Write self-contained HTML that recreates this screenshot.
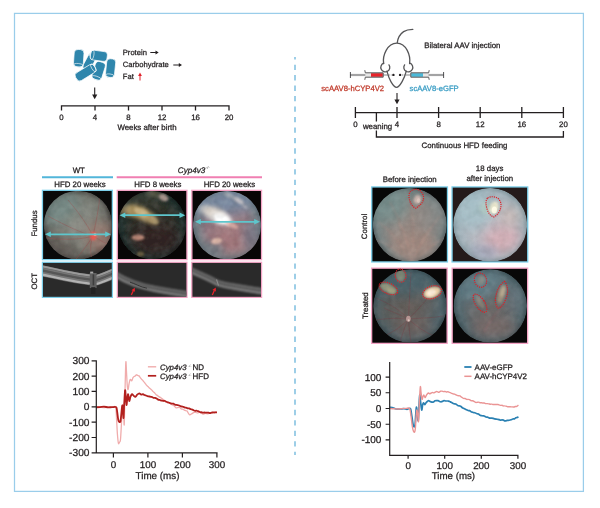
<!DOCTYPE html>
<html><head><meta charset="utf-8"><title>figure</title>
<style>
html,body{margin:0;padding:0;background:#fff;}
svg{display:block;will-change:transform;filter:blur(0.3px);}
text{font-family:"Liberation Sans",sans-serif;stroke-width:0.26px;text-rendering:geometricPrecision;}
</style></head><body>
<svg width="600" height="508" viewBox="0 0 600 508">
<defs>
<filter id="b1" x="-30%" y="-30%" width="160%" height="160%"><feGaussianBlur stdDeviation="1"/></filter>
<filter id="b2" x="-30%" y="-30%" width="160%" height="160%"><feGaussianBlur stdDeviation="2"/></filter>
<filter id="b3" x="-40%" y="-40%" width="180%" height="180%"><feGaussianBlur stdDeviation="3.5"/></filter>
<filter id="b5" x="-50%" y="-50%" width="200%" height="200%"><feGaussianBlur stdDeviation="6"/></filter>
<filter id="b05" x="-30%" y="-30%" width="160%" height="160%"><feGaussianBlur stdDeviation="0.5"/></filter>
<filter id="b07" x="-30%" y="-30%" width="160%" height="160%"><feGaussianBlur stdDeviation="0.75"/></filter>
<filter id="grainD" x="0" y="0" width="100%" height="100%" color-interpolation-filters="sRGB"><feTurbulence type="fractalNoise" baseFrequency="0.13" numOctaves="2" seed="4"/><feColorMatrix type="matrix" values="0 0 0 0 0  0 0 0 0 0  0 0 0 0 0  1.0 0 0 0 -0.36"/></filter>
<filter id="grainL" x="0" y="0" width="100%" height="100%" color-interpolation-filters="sRGB"><feTurbulence type="fractalNoise" baseFrequency="0.13" numOctaves="2" seed="11"/><feColorMatrix type="matrix" values="0 0 0 0 1  0 0 0 0 1  0 0 0 0 1  0 1.0 0 0 -0.38"/></filter>
<clipPath id="cb1"><rect x="43.099999999999994" y="191.0" width="68.60000000000001" height="68.0"/></clipPath>
<clipPath id="cc1"><circle cx="78.1" cy="225.1" r="34.4"/></clipPath>
<radialGradient id="fg1" gradientUnits="userSpaceOnUse" cx="78.1" cy="225.1" r="34.4"><stop offset="0" stop-color="#888981"/><stop offset="0.62" stop-color="#81837b"/><stop offset="0.86" stop-color="#696963"/><stop offset="1" stop-color="#42403d"/></radialGradient>
<clipPath id="cb2"><rect x="117.89999999999999" y="191.0" width="68.39999999999999" height="68.0"/></clipPath>
<clipPath id="cc2"><circle cx="152.1" cy="225.1" r="34.2"/></clipPath>
<radialGradient id="fg2" gradientUnits="userSpaceOnUse" cx="152.1" cy="225.1" r="34.2"><stop offset="0" stop-color="#322e27"/><stop offset="0.6" stop-color="#2d2f28"/><stop offset="0.88" stop-color="#23312e"/><stop offset="1" stop-color="#172321"/></radialGradient>
<clipPath id="cb3"><rect x="192.5" y="191.0" width="68.39999999999998" height="68.0"/></clipPath>
<clipPath id="cc3"><circle cx="227" cy="225.1" r="34.2"/></clipPath>
<radialGradient id="fg3" gradientUnits="userSpaceOnUse" cx="227" cy="225.1" r="34.2"><stop offset="0" stop-color="#a07c80"/><stop offset="0.6" stop-color="#947a84"/><stop offset="0.88" stop-color="#788088"/><stop offset="1" stop-color="#5c6a72"/></radialGradient>
<clipPath id="co1"><rect x="43.0" y="262.9" width="68.8" height="33.90000000000001"/></clipPath>
<clipPath id="co2"><rect x="117.9" y="262.9" width="68.49999999999999" height="33.90000000000001"/></clipPath>
<clipPath id="co3"><rect x="192.39999999999998" y="262.9" width="68.6" height="33.90000000000001"/></clipPath>
<clipPath id="cb4"><rect x="372.40000000000003" y="187.60000000000002" width="74.39999999999998" height="73.69999999999999"/></clipPath>
<clipPath id="cc4"><circle cx="409.8" cy="224.9" r="37"/></clipPath>
<radialGradient id="fg4" gradientUnits="userSpaceOnUse" cx="409.8" cy="224.9" r="37"><stop offset="0" stop-color="#988c86"/><stop offset="0.6" stop-color="#908a86"/><stop offset="0.88" stop-color="#788484"/><stop offset="1" stop-color="#566264"/></radialGradient>
<clipPath id="cb5"><rect x="452.7" y="187.60000000000002" width="74.40000000000003" height="73.69999999999999"/></clipPath>
<clipPath id="cc5"><circle cx="490.2" cy="224.9" r="37"/></clipPath>
<radialGradient id="fg5" gradientUnits="userSpaceOnUse" cx="490.2" cy="224.9" r="37"><stop offset="0" stop-color="#c4bcc4"/><stop offset="0.6" stop-color="#b8bcc4"/><stop offset="0.88" stop-color="#a2b2ba"/><stop offset="1" stop-color="#8498a0"/></radialGradient>
<clipPath id="cb6"><rect x="372.3" y="268.8" width="74.19999999999999" height="73.89999999999998"/></clipPath>
<clipPath id="cc6"><circle cx="410" cy="306" r="36.8"/></clipPath>
<radialGradient id="fg6" gradientUnits="userSpaceOnUse" cx="410" cy="306" r="36.8"><stop offset="0" stop-color="#665e5a"/><stop offset="0.55" stop-color="#60605e"/><stop offset="0.85" stop-color="#4e6268"/><stop offset="1" stop-color="#34484e"/></radialGradient>
<clipPath id="cb7"><rect x="452.8" y="268.8" width="74.19999999999999" height="73.89999999999998"/></clipPath>
<clipPath id="cc7"><circle cx="490.3" cy="306" r="36.8"/></clipPath>
<radialGradient id="fg7" gradientUnits="userSpaceOnUse" cx="490.3" cy="306" r="36.8"><stop offset="0" stop-color="#6c6866"/><stop offset="0.55" stop-color="#666a6c"/><stop offset="0.85" stop-color="#566a70"/><stop offset="1" stop-color="#3c5056"/></radialGradient>
</defs>
<rect width="600" height="508" fill="#fff"/>
<rect x="14.5" y="13.4" width="568.9" height="478" fill="#fff" stroke="#9acdea" stroke-width="1.25"/>
<line x1="295" y1="57.1" x2="295" y2="455" stroke="#7dbfe0" stroke-width="1.5" stroke-dasharray="5.3 5.16" stroke-dashoffset="2.9"/>
<g transform="translate(89.6,61.8) rotate(-62)"><rect x="-8.75" y="-4.2" width="17.5" height="8.4" rx="3.192" ry="3.192" fill="#2f86ac" stroke="#fff" stroke-width="0.7"/><ellipse cx="6.85" cy="0" rx="1.7" ry="4.0" fill="none" stroke="#fff" stroke-width="0.6"/></g>
<g transform="translate(78.75,58.3) rotate(94)"><rect x="-8.8" y="-4.9" width="17.6" height="9.8" rx="3.724" ry="3.724" fill="#2f86ac" stroke="#fff" stroke-width="0.7"/><ellipse cx="6.9" cy="0" rx="1.7" ry="4.7" fill="none" stroke="#fff" stroke-width="0.6"/></g>
<g transform="translate(110.6,68.2) rotate(96)"><rect x="-9.4" y="-4.5" width="18.8" height="9.0" rx="3.42" ry="3.42" fill="#2f86ac" stroke="#fff" stroke-width="0.7"/><ellipse cx="7.5" cy="0" rx="1.7" ry="4.3" fill="none" stroke="#fff" stroke-width="0.6"/></g>
<g transform="translate(98.6,70.9) rotate(107.4)"><rect x="-9.3" y="-5.1" width="18.6" height="10.2" rx="3.876" ry="3.876" fill="#2f86ac" stroke="#fff" stroke-width="0.7"/><ellipse cx="7.4" cy="0" rx="1.7" ry="4.8999999999999995" fill="none" stroke="#fff" stroke-width="0.6"/></g>
<g transform="translate(98.75,55.8) rotate(8)"><rect x="-8.5" y="-4.9" width="17" height="9.8" rx="3.724" ry="3.724" fill="#2f86ac" stroke="#fff" stroke-width="0.7"/><ellipse cx="-6.6" cy="0" rx="1.7" ry="4.7" fill="none" stroke="#fff" stroke-width="0.6"/></g>
<g transform="translate(85.6,72.6) rotate(-31.5)"><rect x="-11.0" y="-4.6" width="22" height="9.2" rx="3.4959999999999996" ry="3.4959999999999996" fill="#2f86ac" stroke="#fff" stroke-width="0.7"/><ellipse cx="9.1" cy="0" rx="1.7" ry="4.3999999999999995" fill="none" stroke="#fff" stroke-width="0.6"/></g>
<text transform="translate(122.8,55.1) scale(1.0,1)" font-size="7.6" text-anchor="start" fill="#231f20" stroke="#231f20"  >Protein</text>
<text transform="translate(122.8,67.3) scale(1.0,1)" font-size="7.6" text-anchor="start" fill="#231f20" stroke="#231f20"  >Carbohydrate</text>
<text transform="translate(122.8,79.3) scale(1.0,1)" font-size="7.6" text-anchor="start" fill="#231f20" stroke="#231f20"  >Fat</text>
<path d="M150.3,52.5 L155.9,52.5" stroke="#231f20" stroke-width="1.0" fill="none"/>
<path d="M158.7,52.5 L155.5,50.6 L155.5,54.4 Z" fill="#231f20"/>
<path d="M173.3,65 L179.20000000000002,65" stroke="#231f20" stroke-width="1.0" fill="none"/>
<path d="M182,65 L178.8,63.1 L178.8,66.9 Z" fill="#231f20"/>
<path d="M140,80.5 L140,75.6" stroke="#e0222b" stroke-width="1.0" fill="none"/>
<path d="M140,72.5 L138.1,76.0 L141.9,76.0 Z" fill="#e0222b"/>
<path d="M94.7,87.5 L94.7,95.0" stroke="#231f20" stroke-width="1.1" fill="none"/>
<path d="M94.7,99.2 L92.10000000000001,94.60000000000001 L97.3,94.60000000000001 Z" fill="#231f20"/>
<path d="M61.5,110.39999999999999 L61.5,105.8 L229.0,105.8 L229.0,110.39999999999999 M95.0,105.8 L95.0,110.39999999999999 M128.5,105.8 L128.5,110.39999999999999 M162.0,105.8 L162.0,110.39999999999999 M195.5,105.8 L195.5,110.39999999999999" stroke="#231f20" stroke-width="1.3" fill="none"/>
<text transform="translate(61.5,119.7) scale(1.0,1)" font-size="7.85" text-anchor="middle" fill="#231f20" stroke="#231f20"  >0</text>
<text transform="translate(95.0,119.7) scale(1.0,1)" font-size="7.85" text-anchor="middle" fill="#231f20" stroke="#231f20"  >4</text>
<text transform="translate(128.5,119.7) scale(1.0,1)" font-size="7.85" text-anchor="middle" fill="#231f20" stroke="#231f20"  >8</text>
<text transform="translate(162.0,119.7) scale(1.0,1)" font-size="7.85" text-anchor="middle" fill="#231f20" stroke="#231f20"  >12</text>
<text transform="translate(195.5,119.7) scale(1.0,1)" font-size="7.85" text-anchor="middle" fill="#231f20" stroke="#231f20"  >16</text>
<text transform="translate(229.0,119.7) scale(1.0,1)" font-size="7.85" text-anchor="middle" fill="#231f20" stroke="#231f20"  >20</text>
<text transform="translate(147,129.8) scale(1.0,1)" font-size="7.85" text-anchor="middle" fill="#231f20" stroke="#231f20"  >Weeks after birth</text>
<g fill="none" stroke="#555557" stroke-width="1.3" stroke-linecap="round" stroke-linejoin="round">
<path d="M397.3,42.6 C397.8,38.5 399.8,34.2 403.6,31.6 C406.4,29.9 409.6,29.5 412.8,29.4"/>
<path d="M383.6,63.6 C382.4,55.5 387.2,43.2 396.8,43.1 C406.4,43.2 410.8,55.5 409.6,63.6" fill="#fff"/>
<path d="M386.9,71.2 C388,75.5 389.4,79 390.9,81.6 C392.6,84.6 394.7,87.3 396.5,87.3 C398.3,87.3 400.4,84.6 402.1,81.6 C403.6,79 405.2,75.5 406.3,71.2"/>
<path d="M383.76,63.17 A4.5,4.5 0 1 0 388.99,64.82"/>
<path d="M409.84,63.17 A4.5,4.5 0 1 1 404.61,64.82"/>
</g>
<circle cx="393.4" cy="74.9" r="1.2" fill="#231f20"/><circle cx="400.1" cy="74.9" r="1.2" fill="#231f20"/>
<path d="M383,75 L388,75 M405.6,75 L410.6,75" stroke="#777" stroke-width="0.9" fill="none"/>
<path d="M388.4,75 L391.6,75 M402,75 L405.2,75" stroke="#555557" stroke-width="0.7" stroke-dasharray="1.4 1.0" fill="none"/>
<rect x="350.4" y="74.2" width="14.900000000000034" height="1.6" fill="#dcdcdc" stroke="#555557" stroke-width="0.5"/>
<path d="M350.4,72 L350.4,78" stroke="#48484a" stroke-width="0.95"/>
<rect x="365.3" y="72.8" width="17.899999999999977" height="4.400000000000006" fill="#e6e6e6"/>
<rect x="371.0" y="73.2" width="11.800000000000011" height="3.600000000000006" fill="#e8232a"/>
<path d="M364.8,70.2 L365.3,72.8 L383.2,72.8 L383.2,77.2 L365.3,77.2 L364.8,79.8" stroke="#48484a" stroke-width="0.9" fill="none" stroke-linejoin="miter"/>
<rect x="428.7" y="74.2" width="14.900000000000034" height="1.6" fill="#dcdcdc" stroke="#555557" stroke-width="0.5"/>
<path d="M443.6,72 L443.6,78" stroke="#48484a" stroke-width="0.95"/>
<rect x="410.8" y="72.8" width="17.899999999999977" height="4.400000000000006" fill="#e6e6e6"/>
<rect x="411.2" y="73.2" width="11.800000000000011" height="3.600000000000006" fill="#4bb9d8"/>
<path d="M429.2,70.2 L428.7,72.8 L410.8,72.8 L410.8,77.2 L428.7,77.2 L429.2,79.8" stroke="#48484a" stroke-width="0.9" fill="none" stroke-linejoin="miter"/>
<text transform="translate(384,91.3) scale(1.0,1)" font-size="7.65" text-anchor="end" fill="#c03a2b" stroke="#c03a2b"  >scAAV8-hCYP4V2</text>
<text transform="translate(409.6,91.0) scale(1.0,1)" font-size="7.65" text-anchor="start" fill="#3a9dc4" stroke="#3a9dc4"  >scAAV8-eGFP</text>
<text transform="translate(424.2,47.9) scale(1.0,1)" font-size="7.85" text-anchor="start" fill="#231f20" stroke="#231f20"  >Bilateral AAV injection</text>
<path d="M397,93 L397,100.0" stroke="#231f20" stroke-width="1.1" fill="none"/>
<path d="M397,104.2 L394.4,99.60000000000001 L399.6,99.60000000000001 Z" fill="#231f20"/>
<path d="M355.4,112.6 L563.4,112.6 M355.4,107.1 L355.4,118.1 M397.0,107.1 L397.0,118.1 M438.59999999999997,107.1 L438.59999999999997,118.1 M480.2,107.1 L480.2,118.1 M521.8,107.1 L521.8,118.1 M563.4,107.1 L563.4,118.1 M376.4,112.6 L376.4,121.4 M376.4,130.6 L376.4,137 L563.4,137 L563.4,131" stroke="#231f20" stroke-width="1.3" fill="none"/>
<text transform="translate(355.4,127.3) scale(1.0,1)" font-size="7.85" text-anchor="middle" fill="#231f20" stroke="#231f20"  >0</text>
<text transform="translate(397.0,127.3) scale(1.0,1)" font-size="7.85" text-anchor="middle" fill="#231f20" stroke="#231f20"  >4</text>
<text transform="translate(438.59999999999997,127.3) scale(1.0,1)" font-size="7.85" text-anchor="middle" fill="#231f20" stroke="#231f20"  >8</text>
<text transform="translate(480.2,127.3) scale(1.0,1)" font-size="7.85" text-anchor="middle" fill="#231f20" stroke="#231f20"  >12</text>
<text transform="translate(521.8,127.3) scale(1.0,1)" font-size="7.85" text-anchor="middle" fill="#231f20" stroke="#231f20"  >16</text>
<text transform="translate(563.4,127.3) scale(1.0,1)" font-size="7.85" text-anchor="middle" fill="#231f20" stroke="#231f20"  >20</text>
<text transform="translate(377.5,129) scale(1.0,1)" font-size="7.85" text-anchor="middle" fill="#231f20" stroke="#231f20"  >weaning</text>
<text transform="translate(464.5,148.2) scale(1.0,1)" font-size="7.85" text-anchor="middle" fill="#231f20" stroke="#231f20"  >Continuous HFD feeding</text>
<text transform="translate(78.8,172.8) scale(1.0,1)" font-size="7.85" text-anchor="middle" fill="#231f20" stroke="#231f20"  >WT</text>
<line x1="42" y1="177.3" x2="113" y2="177.3" stroke="#52b6da" stroke-width="1.9"/>
<line x1="116.7" y1="177.3" x2="262" y2="177.3" stroke="#f07fb2" stroke-width="1.9"/>
<text x="177.8" y="173.3" font-size="8.1" font-style="italic" fill="#231f20" stroke="#231f20">Cyp4v3</text>
<text x="205.6" y="168.7" font-size="4.2" font-style="italic" fill="#333">-/-</text>
<text transform="translate(80,186.7) scale(1.0,1)" font-size="7.85" text-anchor="middle" fill="#231f20" stroke="#231f20"  >HFD 20 weeks</text>
<text transform="translate(157.9,186.7) scale(1.0,1)" font-size="7.85" text-anchor="middle" fill="#231f20" stroke="#231f20"  >HFD 8 weeks</text>
<text transform="translate(229.4,186.7) scale(1.0,1)" font-size="7.85" text-anchor="middle" fill="#231f20" stroke="#231f20"  >HFD 20 weeks</text>
<text transform="translate(37.4,223.5) rotate(-90) scale(1.0,1)" font-size="7.85" text-anchor="middle" fill="#231f20" stroke="#231f20">Fundus</text>
<text transform="translate(37,281.3) rotate(-90) scale(1.0,1)" font-size="7.85" text-anchor="middle" fill="#231f20" stroke="#231f20">OCT</text>
<rect x="42.449999999999996" y="190.35" width="69.9" height="69.30000000000003" fill="#0a0a0a" stroke="#7ccfea" stroke-width="1.3"/>
<g clip-path="url(#cb1)"><g filter="url(#b05)"><g clip-path="url(#cc1)">
<circle cx="78.1" cy="225.1" r="34.4" fill="url(#fg1)"/>
<ellipse cx="60" cy="208" rx="22" ry="15" transform="rotate(-35 60 208)" fill="#768c88" opacity="0.85" filter="url(#b5)"/>
<ellipse cx="100" cy="238" rx="14" ry="16" transform="rotate(0 100 238)" fill="#a27a70" opacity="0.75" filter="url(#b5)"/>
<ellipse cx="60" cy="248" rx="18" ry="11" transform="rotate(20 60 248)" fill="#5e5852" opacity="0.85" filter="url(#b5)"/>
<ellipse cx="92" cy="204" rx="12" ry="9" transform="rotate(0 92 204)" fill="#8a9288" opacity="0.5" filter="url(#b5)"/>
<ellipse cx="78" cy="226" rx="10" ry="8" transform="rotate(0 78 226)" fill="#92928a" opacity="0.5" filter="url(#b3)"/>
<g stroke="#9c5050" stroke-width="0.8" fill="none" opacity="0.5" filter="url(#b07)"><path d="M93,236 C88,226 80,214 68,200"/><path d="M93,236 C96,222 99,208 100,194"/><path d="M93,236 C84,234 66,226 48,216"/><path d="M93,236 C88,244 82,252 76,259"/><path d="M93,236 C90,244 90,252 92,259"/><path d="M93,236 C100,240 106,244 111,246"/><path d="M93,236 C80,240 62,240 46,238"/></g><ellipse cx="93.3" cy="236" rx="3.2" ry="4.2" fill="#f0564e" opacity="0.95" filter="url(#b1)"/><ellipse cx="95" cy="234.5" rx="1.6" ry="1.6" fill="#ff9a80" opacity="0.9" filter="url(#b05)"/>
<rect x="43.699999999999996" y="190.7" width="68.8" height="68.8" filter="url(#grainD)" opacity="0.16"/>
<rect x="43.699999999999996" y="190.7" width="68.8" height="68.8" filter="url(#grainL)" opacity="0.16"/>
</g></g></g>
<path d="M49,234.3 L107,234.3" stroke="#5ec6cc" stroke-width="1.7"/>
<path d="M45,234.3 L50.8,231.5 L50.8,237.10000000000002 Z M111,234.3 L105.2,231.5 L105.2,237.10000000000002 Z" fill="#5ec6cc"/>
<rect x="117.25" y="190.35" width="69.7" height="69.30000000000003" fill="#080606" stroke="#f5a4c6" stroke-width="1.3"/>
<g clip-path="url(#cb2)"><g filter="url(#b05)"><g clip-path="url(#cc2)">
<circle cx="152.1" cy="225.1" r="34.2" fill="url(#fg2)"/>
<ellipse cx="156" cy="240" rx="26" ry="16" transform="rotate(0 156 240)" fill="#302420" opacity="0.8" filter="url(#b5)"/>
<ellipse cx="140" cy="200" rx="22" ry="9" transform="rotate(0 140 200)" fill="#3e4034" opacity="0.8" filter="url(#b5)"/>
<ellipse cx="128" cy="211" rx="10" ry="5" transform="rotate(8 128 211)" fill="#94805a" opacity="0.85" filter="url(#b2)"/>
<ellipse cx="137" cy="211.5" rx="11" ry="6.2" transform="rotate(18 137 211.5)" fill="#b09864" opacity="1" filter="url(#b2)"/>
<ellipse cx="147" cy="216.5" rx="12" ry="5.2" transform="rotate(28 147 216.5)" fill="#baa270" opacity="1" filter="url(#b2)"/>
<ellipse cx="142" cy="212.5" rx="8" ry="3" transform="rotate(22 142 212.5)" fill="#c8b484" opacity="0.8" filter="url(#b1)"/>
<ellipse cx="154" cy="221" rx="5" ry="2.3" transform="rotate(28 154 221)" fill="#b09a70" opacity="0.8" filter="url(#b1)"/>
<ellipse cx="163.5" cy="197.5" rx="5" ry="3.2" transform="rotate(25 163.5 197.5)" fill="#b49c94" opacity="0.95" filter="url(#b1)"/>
<ellipse cx="154" cy="193.6" rx="7" ry="2.6" transform="rotate(12 154 193.6)" fill="#6c684e" opacity="0.8" filter="url(#b2)"/>
<ellipse cx="138" cy="237.5" rx="6.5" ry="3" transform="rotate(0 138 237.5)" fill="#c08a78" opacity="0.95" filter="url(#b1)"/>
<ellipse cx="140.5" cy="254" rx="3.5" ry="2.6" transform="rotate(0 140.5 254)" fill="#80704c" opacity="0.8" filter="url(#b1)"/>

<rect x="117.89999999999999" y="190.89999999999998" width="68.4" height="68.4" filter="url(#grainD)" opacity="0.2"/>
<rect x="117.89999999999999" y="190.89999999999998" width="68.4" height="68.4" filter="url(#grainL)" opacity="0.2"/>
</g></g></g>
<path d="M123.5,215.2 L181.3,215.2" stroke="#5ec6cc" stroke-width="1.7"/>
<path d="M119.5,215.2 L125.3,212.39999999999998 L125.3,218.0 Z M185.3,215.2 L179.5,212.39999999999998 L179.5,218.0 Z" fill="#5ec6cc"/>
<rect x="191.85" y="190.35" width="69.7" height="69.30000000000003" fill="#080606" stroke="#f5a4c6" stroke-width="1.3"/>
<g clip-path="url(#cb3)"><g filter="url(#b05)"><g clip-path="url(#cc3)">
<circle cx="227" cy="225.1" r="34.2" fill="url(#fg3)"/>
<ellipse cx="224" cy="203" rx="32" ry="13" transform="rotate(-8 224 203)" fill="#7688a0" opacity="0.95" filter="url(#b5)"/>
<ellipse cx="232" cy="242" rx="26" ry="13" transform="rotate(0 232 242)" fill="#a8787c" opacity="0.8" filter="url(#b5)"/>
<ellipse cx="210" cy="250" rx="14" ry="9" transform="rotate(0 210 250)" fill="#6e7880" opacity="0.8" filter="url(#b3)"/>
<ellipse cx="250" cy="236" rx="8" ry="14" transform="rotate(0 250 236)" fill="#70788a" opacity="0.6" filter="url(#b3)"/>
<ellipse cx="207" cy="211" rx="10" ry="4.6" transform="rotate(28 207 211)" fill="#b4b6ba" opacity="0.9" filter="url(#b2)"/>
<ellipse cx="215.5" cy="214" rx="13" ry="6.4" transform="rotate(22 215.5 214)" fill="#dcd4cc" opacity="1" filter="url(#b2)"/>
<ellipse cx="222" cy="219" rx="10.5" ry="5.4" transform="rotate(18 222 219)" fill="#ffffff" opacity="1" filter="url(#b2)"/>
<ellipse cx="222.5" cy="219.4" rx="6.5" ry="3.2" transform="rotate(18 222.5 219.4)" fill="#ffffff" opacity="1" filter="url(#b1)"/>
<ellipse cx="232" cy="225.4" rx="7" ry="2.4" transform="rotate(25 232 225.4)" fill="#e4b4ac" opacity="0.9" filter="url(#b1)"/>
<ellipse cx="238.5" cy="200.5" rx="6.5" ry="2.6" transform="rotate(32 238.5 200.5)" fill="#ccc8cc" opacity="0.9" filter="url(#b1)"/>
<ellipse cx="229" cy="195.4" rx="6" ry="2.4" transform="rotate(24 229 195.4)" fill="#aab0b8" opacity="0.8" filter="url(#b1)"/>
<ellipse cx="245" cy="206.5" rx="3.5" ry="1.8" transform="rotate(30 245 206.5)" fill="#b8b8c0" opacity="0.7" filter="url(#b1)"/>
<ellipse cx="216.5" cy="241" rx="5.5" ry="3" transform="rotate(-12 216.5 241)" fill="#e4bcac" opacity="0.95" filter="url(#b1)"/>

<rect x="192.8" y="190.89999999999998" width="68.4" height="68.4" filter="url(#grainD)" opacity="0.2"/>
<rect x="192.8" y="190.89999999999998" width="68.4" height="68.4" filter="url(#grainL)" opacity="0.2"/>
</g></g></g>
<path d="M199,221.8 L256,221.8" stroke="#5ec6cc" stroke-width="1.7"/>
<path d="M195,221.8 L200.8,219.0 L200.8,224.60000000000002 Z M260,221.8 L254.2,219.0 L254.2,224.60000000000002 Z" fill="#5ec6cc"/>
<rect x="42.4" y="262.3" width="70.0" height="35.10000000000001" fill="#2a2a2a" stroke="#7ccfea" stroke-width="1.2"/>
<g clip-path="url(#co1)"><g fill="none" filter="url(#b07)"><path d="M40,270.4 C48,272 56,273.6 64.7,275.6 C72,277.2 80,278.6 90,279.8" stroke="#646464" stroke-width="11"/><path d="M40,270.4 C48,272 56,273.6 64.7,275.6 C72,277.2 80,278.6 90,279.8" transform="translate(0,-4.4)" stroke="#9a9a9a" stroke-width="2.0"/><path d="M40,270.4 C48,272 56,273.6 64.7,275.6 C72,277.2 80,278.6 90,279.8" transform="translate(0,-2.2)" stroke="#747474" stroke-width="1.8"/><path d="M40,270.4 C48,272 56,273.6 64.7,275.6 C72,277.2 80,278.6 90,279.8" transform="translate(0,-0.2)" stroke="#565656" stroke-width="2.2"/><path d="M40,270.4 C48,272 56,273.6 64.7,275.6 C72,277.2 80,278.6 90,279.8" transform="translate(0,1.8)" stroke="#787878" stroke-width="1.6"/><path d="M40,270.4 C48,272 56,273.6 64.7,275.6 C72,277.2 80,278.6 90,279.8" transform="translate(0,3.8)" stroke="#b2b2b2" stroke-width="2.4"/></g><g fill="none" filter="url(#b07)"><path d="M96,280.4 C101,279 107,276.6 115,273" stroke="#646464" stroke-width="10.4"/><path d="M96,280.4 C101,279 107,276.6 115,273" transform="translate(0,-4.4)" stroke="#9a9a9a" stroke-width="2.0"/><path d="M96,280.4 C101,279 107,276.6 115,273" transform="translate(0,-2.2)" stroke="#747474" stroke-width="1.8"/><path d="M96,280.4 C101,279 107,276.6 115,273" transform="translate(0,-0.2)" stroke="#565656" stroke-width="2.2"/><path d="M96,280.4 C101,279 107,276.6 115,273" transform="translate(0,1.8)" stroke="#787878" stroke-width="1.6"/><path d="M96,280.4 C101,279 107,276.6 115,273" transform="translate(0,3.8)" stroke="#b2b2b2" stroke-width="2.4"/></g><g filter="url(#b07)"><rect x="89.8" y="273" width="6.8" height="15" fill="#606060"/><rect x="92.6" y="274.4" width="1.6" height="11" fill="#3c3c3c"/><rect x="90.2" y="271.6" width="3" height="1.8" fill="#a8a8a8"/><rect x="91.2" y="287" width="4.2" height="7" fill="#222" opacity="0.8"/></g></g>
<rect x="117.3" y="262.3" width="69.69999999999999" height="35.10000000000001" fill="#2a2a2a" stroke="#f5a4c6" stroke-width="1.2"/>
<g clip-path="url(#co2)"><g fill="none" filter="url(#b1)"><path d="M114,273.6 C122,278.6 128,281.2 134,283.3 C140,285.4 147,287.4 154,288.7 C162,290.2 172,292.2 190,294.6" stroke="#585858" stroke-width="5.6"/><path d="M114,273.6 C122,278.6 128,281.2 134,283.3 C140,285.4 147,287.4 154,288.7 C162,290.2 172,292.2 190,294.6" transform="translate(0,-2.2)" stroke="#787878" stroke-width="1.3"/><path d="M114,273.6 C122,278.6 128,281.2 134,283.3 C140,285.4 147,287.4 154,288.7 C162,290.2 172,292.2 190,294.6" transform="translate(0,0)" stroke="#4c4c4c" stroke-width="1.4"/><path d="M114,273.6 C122,278.6 128,281.2 134,283.3 C140,285.4 147,287.4 154,288.7 C162,290.2 172,292.2 190,294.6" transform="translate(0,2.2)" stroke="#8c8c8c" stroke-width="1.6"/></g><path d="M130,282.2 C135,283.6 140,287 147,288.2" stroke="#222" stroke-width="0.9" fill="none" opacity="0.8" filter="url(#b07)"/><path d="M131.30,294.90 L133.21,291.03" stroke="#e8222a" stroke-width="1.3" fill="none"/><path d="M134.80,287.80 L134.91,291.87 L131.50,290.19 Z" fill="#e8222a"/></g>
<rect x="191.79999999999998" y="262.3" width="69.8" height="35.10000000000001" fill="#2a2a2a" stroke="#f5a4c6" stroke-width="1.2"/>
<g clip-path="url(#co3)"><g fill="none" filter="url(#b1)"><path d="M189,269.4 C196,272.6 202,275.4 208,278 C212,279.8 215,281.8 218.7,283.3 C224,285 229,285.8 234.7,286.7 C242,288 250,289.4 264,291.4" stroke="#585858" stroke-width="5.8"/><path d="M189,269.4 C196,272.6 202,275.4 208,278 C212,279.8 215,281.8 218.7,283.3 C224,285 229,285.8 234.7,286.7 C242,288 250,289.4 264,291.4" transform="translate(0,-2.2)" stroke="#787878" stroke-width="1.3"/><path d="M189,269.4 C196,272.6 202,275.4 208,278 C212,279.8 215,281.8 218.7,283.3 C224,285 229,285.8 234.7,286.7 C242,288 250,289.4 264,291.4" transform="translate(0,0)" stroke="#4c4c4c" stroke-width="1.4"/><path d="M189,269.4 C196,272.6 202,275.4 208,278 C212,279.8 215,281.8 218.7,283.3 C224,285 229,285.8 234.7,286.7 C242,288 250,289.4 264,291.4" transform="translate(0,2.2)" stroke="#8c8c8c" stroke-width="1.6"/></g><path d="M216.5,279.5 L218.5,285.6" stroke="#8a8a8a" stroke-width="1.1" fill="none" filter="url(#b07)"/><path d="M212.30,294.90 L214.20,290.77" stroke="#e8222a" stroke-width="1.3" fill="none"/><path d="M215.70,287.50 L215.92,291.56 L212.47,289.98 Z" fill="#e8222a"/></g>
<text transform="translate(409.7,181.5) scale(1.0,1)" font-size="7.85" text-anchor="middle" fill="#231f20" stroke="#231f20"  >Before injection</text>
<text transform="translate(489.6,171.2) scale(1.0,1)" font-size="7.85" text-anchor="middle" fill="#231f20" stroke="#231f20"  >18 days</text>
<text transform="translate(489.8,181.1) scale(1.0,1)" font-size="7.85" text-anchor="middle" fill="#231f20" stroke="#231f20"  >after injection</text>
<text transform="translate(367.4,226.5) rotate(-90) scale(1.0,1)" font-size="7.85" text-anchor="middle" fill="#231f20" stroke="#231f20">Control</text>
<text transform="translate(367.5,305.7) rotate(-90) scale(1.0,1)" font-size="7.85" text-anchor="middle" fill="#231f20" stroke="#231f20">Treated</text>
<rect x="371.75" y="186.95000000000002" width="75.7" height="75.00000000000001" fill="#080808" stroke="#7ccfea" stroke-width="1.3"/>
<g clip-path="url(#cb4)"><g filter="url(#b05)"><g clip-path="url(#cc4)">
<circle cx="409.8" cy="224.9" r="37" fill="url(#fg4)"/>
<ellipse cx="390" cy="206" rx="22" ry="16" transform="rotate(-35 390 206)" fill="#78908e" opacity="0.9" filter="url(#b5)"/>
<ellipse cx="414" cy="246" rx="24" ry="15" transform="rotate(0 414 246)" fill="#a48a80" opacity="0.8" filter="url(#b5)"/>
<ellipse cx="436" cy="214" rx="12" ry="18" transform="rotate(20 436 214)" fill="#8c8e8c" opacity="0.6" filter="url(#b5)"/>
<g stroke="#c49488" stroke-width="1.1" fill="none" opacity="0.32" filter="url(#b1)"><path d="M412,264 C408,240 400,220 390,202"/><path d="M412,264 C414,240 414,222 411,206"/><path d="M412,264 C404,246 390,230 378,222"/><path d="M412,264 C420,244 430,228 440,216"/><path d="M412,264 C400,250 388,244 376,240"/><path d="M412,264 C424,250 434,244 444,238"/><path d="M412,264 C410,246 404,232 398,222"/><path d="M412,264 C418,246 424,236 430,228"/></g><ellipse cx="417.4" cy="199.4" rx="3.4" ry="4.4" transform="rotate(25 417.4 199.4)" fill="#dcc0b8" opacity="0.85" filter="url(#b1)"/><ellipse cx="418.6" cy="200.6" rx="1.8" ry="2.4" fill="#e8d2ca" opacity="0.6" filter="url(#b07)"/>
<rect x="372.8" y="187.9" width="74" height="74" filter="url(#grainD)" opacity="0.14"/>
<rect x="372.8" y="187.9" width="74" height="74" filter="url(#grainL)" opacity="0.14"/>
</g></g></g>
<path d="M410,192 C411.6,189.8 415,188.8 418,189.6 C421,190.6 423.4,194 423.6,197.4 C423.6,200.4 422.4,202.6 421,204 C419.4,205.6 417.6,207 416,208.3 C413.6,207.4 411.8,205.4 410.6,203 C409.4,200.4 408.8,197 409,195 C409.2,193.8 409.4,192.8 410,192 Z" fill="none" stroke="#de1f26" stroke-width="1.2" stroke-dasharray="1.15 1.0"/>
<rect x="452.04999999999995" y="186.95000000000002" width="75.7" height="75.00000000000001" fill="#241a1a" stroke="#7ccfea" stroke-width="1.3"/>
<g clip-path="url(#cb5)"><g filter="url(#b05)"><g clip-path="url(#cc5)">
<circle cx="490.2" cy="224.9" r="37" fill="url(#fg5)"/>
<ellipse cx="474" cy="210" rx="22" ry="20" transform="rotate(-30 474 210)" fill="#a6c0c8" opacity="0.9" filter="url(#b5)"/>
<ellipse cx="502" cy="240" rx="20" ry="14" transform="rotate(-20 502 240)" fill="#d8b0b8" opacity="0.9" filter="url(#b5)"/>
<ellipse cx="510" cy="216" rx="10" ry="10" transform="rotate(0 510 216)" fill="#d0bcb4" opacity="0.7" filter="url(#b5)"/>
<ellipse cx="484" cy="252" rx="14" ry="8" transform="rotate(0 484 252)" fill="#a4a8bc" opacity="0.7" filter="url(#b3)"/>
<ellipse cx="486" cy="208" rx="6" ry="7" fill="#b8d4c4" opacity="0.6" filter="url(#b2)"/><ellipse cx="494" cy="207.6" rx="4.4" ry="6.4" transform="rotate(20 494 207.6)" fill="#f0ecd0" opacity="0.9" filter="url(#b1)"/><ellipse cx="494.4" cy="210" rx="2.6" ry="3.6" fill="#fffce8" opacity="0.95" filter="url(#b07)"/>
<rect x="453.2" y="187.9" width="74" height="74" filter="url(#grainD)" opacity="0.14"/>
<rect x="453.2" y="187.9" width="74" height="74" filter="url(#grainL)" opacity="0.14"/>
</g></g></g>
<path d="M487.6,198 C490.6,196.2 495.4,196.2 498.4,198.8 C500.8,201 501.4,204.6 500.8,207.6 C500.2,210.4 499,212.6 497.4,214.2 C496.2,215.4 495,216.4 493.6,217 C491.2,216.2 489.4,214.2 488.2,211.8 C486.8,209 486,205.6 486,203 C486,201 486.6,199.2 487.6,198 Z" fill="none" stroke="#de1f26" stroke-width="1.2" stroke-dasharray="1.15 1.0"/>
<rect x="371.65" y="268.15" width="75.50000000000001" height="75.2" fill="#080808" stroke="#f5a4c6" stroke-width="1.3"/>
<g clip-path="url(#cb6)"><g filter="url(#b05)"><g clip-path="url(#cc6)">
<circle cx="410" cy="306" r="36.8" fill="url(#fg6)"/>
<ellipse cx="404" cy="284" rx="26" ry="12" transform="rotate(0 404 284)" fill="#4a646c" opacity="0.9" filter="url(#b5)"/>
<ellipse cx="412" cy="328" rx="22" ry="11" transform="rotate(0 412 328)" fill="#726460" opacity="0.7" filter="url(#b5)"/>
<ellipse cx="386" cy="312" rx="10" ry="14" transform="rotate(0 386 312)" fill="#5e5e5c" opacity="0.6" filter="url(#b5)"/>
<ellipse cx="434" cy="312" rx="8" ry="12" transform="rotate(0 434 312)" fill="#606e74" opacity="0.6" filter="url(#b5)"/>
<g stroke="#7c3840" stroke-width="0.6" fill="none" opacity="0.5" filter="url(#b05)"><path d="M408.4,319 C409,306 410,290 411,272"/><path d="M408.4,319 C400,310 390,304 376,298"/><path d="M408.4,319 C418,310 424,302 430,296"/><path d="M408.4,319 C402,326 394,332 384,336"/><path d="M408.4,319 C416,326 424,332 434,336"/><path d="M408.4,319 C409,328 410,336 411,343"/><path d="M408.4,319 C398,318 388,318 376,320"/><path d="M408.4,319 C420,318 432,318 444,316"/><path d="M408.4,319 C404,328 402,336 400,342"/><path d="M408.4,319 C399,314 392,312 384,308"/></g><ellipse cx="408.4" cy="318.8" rx="2.3" ry="3" fill="#c8a4a0" opacity="0.85" filter="url(#b07)"/><ellipse cx="408.8" cy="320.4" rx="0.9" ry="1.1" fill="#f0dcd4" opacity="0.8" filter="url(#b05)"/><ellipse cx="400.6" cy="275.6" rx="4.8" ry="6" transform="rotate(-10 400.6 275.6)" fill="#868e78" opacity="0.85" filter="url(#b1)"/><ellipse cx="388.4" cy="288.4" rx="9" ry="4.4" transform="rotate(25 388.4 288.4)" fill="#94967a" opacity="0.9" filter="url(#b1)"/><ellipse cx="391" cy="290.4" rx="4.4" ry="2.4" transform="rotate(25 391 290.4)" fill="#a8a684" opacity="0.85" filter="url(#b1)"/><ellipse cx="432.1" cy="292.3" rx="9" ry="5.4" transform="rotate(-20 432.1 292.3)" fill="#ecd0a8" opacity="1" filter="url(#b1)"/><ellipse cx="431.4" cy="292.6" rx="4.6" ry="3" transform="rotate(-20 431.4 292.6)" fill="#fff0dc" opacity="1" filter="url(#b1)"/>
<rect x="373.2" y="269.2" width="73.6" height="73.6" filter="url(#grainD)" opacity="0.14"/>
<rect x="373.2" y="269.2" width="73.6" height="73.6" filter="url(#grainL)" opacity="0.14"/>
</g></g></g>
<ellipse cx="400.6" cy="275.6" rx="5.3" ry="6.6" transform="rotate(-10 400.6 275.6)" fill="none" stroke="#de1f26" stroke-width="1.2" stroke-dasharray="1.15 1.0"/>
<ellipse cx="388.4" cy="288.4" rx="9.9" ry="5.2" transform="rotate(25 388.4 288.4)" fill="none" stroke="#de1f26" stroke-width="1.2" stroke-dasharray="1.15 1.0"/>
<ellipse cx="432.1" cy="292.3" rx="9.8" ry="6.1" transform="rotate(-20 432.1 292.3)" fill="none" stroke="#de1f26" stroke-width="1.2" stroke-dasharray="1.15 1.0"/>
<rect x="452.15" y="268.15" width="75.49999999999996" height="75.2" fill="#080808" stroke="#f5a4c6" stroke-width="1.3"/>
<g clip-path="url(#cb7)"><g filter="url(#b05)"><g clip-path="url(#cc7)">
<circle cx="490.3" cy="306" r="36.8" fill="url(#fg7)"/>
<ellipse cx="480" cy="286" rx="24" ry="14" transform="rotate(-20 480 286)" fill="#64808a" opacity="0.9" filter="url(#b5)"/>
<ellipse cx="494" cy="328" rx="24" ry="11" transform="rotate(0 494 328)" fill="#7c6a68" opacity="0.8" filter="url(#b5)"/>
<ellipse cx="514" cy="298" rx="10" ry="14" transform="rotate(0 514 298)" fill="#6a7a84" opacity="0.6" filter="url(#b5)"/>
<ellipse cx="501.5" cy="294" rx="3.6" ry="10" transform="rotate(17 501.5 294)" fill="#a89880" opacity="0.8" filter="url(#b1)"/><ellipse cx="502.4" cy="292" rx="1.8" ry="5" transform="rotate(17 502.4 292)" fill="#c4b494" opacity="0.75" filter="url(#b1)"/><ellipse cx="480.8" cy="280" rx="4" ry="5" fill="#8e8a80" opacity="0.7" filter="url(#b1)"/><ellipse cx="479.9" cy="302" rx="2.6" ry="7" transform="rotate(-33 479.9 302)" fill="#988a7c" opacity="0.75" filter="url(#b1)"/><path d="M484,332 C490,320 496,312 506,304" stroke="#a06068" stroke-width="1" fill="none" opacity="0.5" filter="url(#b1)"/>
<rect x="453.5" y="269.2" width="73.6" height="73.6" filter="url(#grainD)" opacity="0.14"/>
<rect x="453.5" y="269.2" width="73.6" height="73.6" filter="url(#grainL)" opacity="0.14"/>
</g></g></g>
<ellipse cx="480.5" cy="280.2" rx="6" ry="7.2" transform="rotate(-18 480.5 280.2)" fill="none" stroke="#de1f26" stroke-width="1.2" stroke-dasharray="1.15 1.0"/>
<ellipse cx="480" cy="303.2" rx="4.6" ry="10.4" transform="rotate(-33 480 303.2)" fill="none" stroke="#de1f26" stroke-width="1.2" stroke-dasharray="1.15 1.0"/>
<path d="M504.6,281.4 C506.4,283.4 507.6,287.6 507.6,291.8 C507.2,296 505.4,300.6 503.4,304 C501.8,306.4 499.8,308 498,308.2 C496.4,306.8 495.4,303.4 495.4,299.8 C495.6,295.6 497,291 498.8,287.6 C500.4,284.8 502.6,282.4 504.6,281.4 Z" fill="none" stroke="#de1f26" stroke-width="1.2" stroke-dasharray="1.15 1.0"/>
<path d="M96.00,407.30 C96.64,407.25 98.72,406.95 100.00,407.00 C101.28,407.05 102.72,407.60 104.00,407.60 C105.28,407.60 106.72,407.03 108.00,407.00 C109.28,406.97 110.78,407.37 112.00,407.40 C113.22,407.43 114.86,405.18 115.60,407.20 C116.34,409.22 116.31,415.71 116.60,420.00 C116.89,424.29 117.11,430.29 117.40,434.00 C117.69,437.71 118.08,441.86 118.40,443.20 C118.72,444.54 119.08,442.85 119.40,442.40 C119.72,441.95 120.14,442.06 120.40,440.40 C120.66,438.74 120.74,436.22 121.00,432.00 C121.26,427.78 121.68,418.40 122.00,414.00 C122.32,409.60 122.74,405.14 123.00,404.50 C123.26,403.86 123.41,406.72 123.60,410.00 C123.79,413.28 124.01,426.60 124.20,425.00 C124.39,423.40 124.54,409.95 124.80,400.00 C125.06,390.05 125.53,367.28 125.80,362.80 C126.07,358.32 126.26,368.29 126.50,372.00 C126.74,375.71 127.04,383.18 127.30,386.00 C127.56,388.82 127.83,389.92 128.10,389.60 C128.37,389.28 128.66,385.63 129.00,384.00 C129.34,382.37 129.78,379.89 130.20,379.40 C130.62,378.91 131.26,380.89 131.60,380.92 C131.94,380.95 132.08,380.13 132.30,379.61 C132.52,379.10 132.71,378.18 133.00,377.69 C133.29,377.20 133.75,376.85 134.10,376.58 C134.45,376.30 134.85,376.26 135.20,375.97 C135.55,375.68 135.91,374.85 136.30,374.77 C136.69,374.68 137.22,375.24 137.65,375.42 C138.08,375.59 138.64,375.58 139.00,375.87 C139.36,376.15 139.61,376.79 139.90,377.17 C140.19,377.56 140.51,377.93 140.80,378.27 C141.09,378.62 141.41,379.06 141.70,379.36 C141.99,379.66 142.31,379.84 142.60,380.16 C142.89,380.48 143.21,381.02 143.50,381.38 C143.79,381.73 144.11,382.01 144.40,382.38 C144.69,382.74 145.01,383.24 145.30,383.63 C145.59,384.03 145.91,384.50 146.20,384.85 C146.49,385.20 146.81,385.55 147.10,385.81 C147.39,386.08 147.71,386.27 148.00,386.53 C148.29,386.79 148.61,387.17 148.90,387.46 C149.19,387.75 149.49,388.07 149.80,388.34 C150.11,388.61 150.51,388.87 150.84,389.16 C151.17,389.44 151.55,389.77 151.88,390.13 C152.21,390.49 152.59,391.07 152.92,391.42 C153.25,391.76 153.63,391.99 153.96,392.29 C154.29,392.60 154.65,392.94 155.00,393.32 C155.35,393.69 155.80,394.32 156.18,394.65 C156.55,394.98 156.97,395.09 157.35,395.37 C157.73,395.64 158.15,396.09 158.52,396.37 C158.90,396.65 159.28,396.86 159.70,397.12 C160.12,397.37 160.67,397.61 161.13,397.93 C161.59,398.25 162.11,398.79 162.57,399.11 C163.03,399.43 163.55,399.65 164.00,399.95 C164.45,400.24 164.94,400.62 165.38,400.96 C165.81,401.29 166.31,401.79 166.75,402.05 C167.19,402.31 167.69,402.42 168.12,402.57 C168.56,402.72 169.04,402.70 169.50,402.98 C169.96,403.25 170.52,403.95 171.00,404.28 C171.48,404.60 172.02,404.77 172.50,405.01 C172.98,405.25 173.60,405.46 174.00,405.76 C174.40,406.06 174.68,406.56 175.00,406.88 C175.32,407.21 175.57,407.65 176.00,407.78 C176.43,407.91 177.16,407.78 177.70,407.70 C178.24,407.63 178.94,407.19 179.40,407.30 C179.86,407.41 180.22,408.12 180.60,408.40 C180.98,408.68 181.42,408.94 181.80,409.06 C182.18,409.18 182.58,408.99 183.00,409.16 C183.42,409.34 183.95,409.90 184.40,410.14 C184.85,410.39 185.35,410.54 185.80,410.68 C186.25,410.83 186.86,410.80 187.20,411.07 C187.54,411.34 187.68,411.97 187.90,412.37 C188.12,412.77 188.30,413.20 188.60,413.59 C188.90,413.98 189.26,414.80 189.80,414.80 C190.34,414.80 191.33,413.98 192.00,413.60 C192.67,413.22 193.44,412.65 194.00,412.43 C194.56,412.22 195.02,412.19 195.50,412.25 C195.98,412.30 196.52,412.71 197.00,412.77 C197.48,412.83 198.02,412.73 198.50,412.63 C198.98,412.53 199.52,412.10 200.00,412.17 C200.48,412.25 201.02,412.77 201.50,413.10 C201.98,413.42 202.44,414.14 203.00,414.19 C203.56,414.25 204.44,413.55 205.00,413.46 C205.56,413.37 206.02,413.58 206.50,413.64 C206.98,413.70 207.52,413.88 208.00,413.81 C208.48,413.73 209.02,413.35 209.50,413.18 C209.98,413.01 210.52,412.85 211.00,412.74 C211.48,412.63 212.02,412.41 212.50,412.47 C212.98,412.52 213.52,413.12 214.00,413.09 C214.48,413.05 215.02,412.37 215.50,412.24 C215.98,412.11 216.76,412.28 217.00,412.29" fill="none" stroke="#f0acac" stroke-width="1.3" stroke-linejoin="round"/>
<path d="M96.00,407.30 C96.64,407.27 98.72,407.20 100.00,407.10 C101.28,407.00 102.72,406.67 104.00,406.70 C105.28,406.73 106.72,407.22 108.00,407.30 C109.28,407.38 110.69,407.22 112.00,407.20 C113.31,407.18 115.37,406.43 116.20,407.20 C117.03,407.97 116.88,410.03 117.20,412.00 C117.52,413.97 117.88,417.93 118.20,419.50 C118.52,421.07 118.85,421.46 119.20,421.80 C119.55,422.14 120.11,422.37 120.40,421.60 C120.69,420.83 120.71,419.53 121.00,417.00 C121.29,414.47 121.91,407.08 122.20,405.80 C122.49,404.52 122.59,407.05 122.80,409.00 C123.01,410.95 123.28,418.80 123.50,418.00 C123.72,417.20 123.94,408.45 124.20,404.00 C124.46,399.55 124.84,391.32 125.10,390.20 C125.36,389.08 125.58,394.63 125.80,397.00 C126.02,399.37 126.28,404.60 126.50,405.00 C126.72,405.40 126.96,401.23 127.20,399.50 C127.44,397.77 127.76,394.47 128.00,394.20 C128.24,393.93 128.48,396.71 128.70,397.80 C128.92,398.89 129.13,401.13 129.40,401.00 C129.67,400.87 129.98,398.09 130.40,397.00 C130.82,395.91 131.49,394.42 132.00,394.20 C132.51,393.98 133.06,395.18 133.60,395.60 C134.14,396.02 134.82,396.96 135.40,396.80 C135.98,396.64 136.58,395.16 137.20,394.60 C137.82,394.04 138.69,393.30 139.30,393.30 C139.91,393.30 140.41,394.45 141.00,394.60 C141.59,394.75 142.44,394.17 143.00,394.24 C143.56,394.31 144.02,394.82 144.50,395.03 C144.98,395.23 145.55,395.36 146.00,395.52 C146.45,395.69 146.91,395.91 147.33,396.06 C147.76,396.21 148.24,396.40 148.67,396.48 C149.09,396.55 149.52,396.47 150.00,396.54 C150.48,396.61 151.13,396.71 151.67,396.91 C152.20,397.11 152.80,397.65 153.33,397.80 C153.87,397.95 154.48,397.74 155.00,397.86 C155.52,397.97 156.07,398.22 156.57,398.51 C157.07,398.79 157.63,399.39 158.13,399.63 C158.63,399.87 159.24,399.84 159.70,399.98 C160.16,400.12 160.60,400.41 161.02,400.50 C161.45,400.60 161.93,400.51 162.35,400.59 C162.77,400.66 163.25,400.92 163.68,400.98 C164.10,401.05 164.59,400.87 165.00,400.99 C165.41,401.11 165.85,401.52 166.25,401.73 C166.65,401.94 167.10,402.19 167.50,402.32 C167.90,402.45 168.35,402.43 168.75,402.56 C169.15,402.70 169.53,402.98 170.00,403.14 C170.47,403.31 171.13,403.49 171.67,403.57 C172.20,403.65 172.80,403.51 173.33,403.67 C173.87,403.83 174.50,404.36 175.00,404.55 C175.50,404.75 176.00,404.82 176.47,404.92 C176.94,405.03 177.46,405.12 177.93,405.21 C178.40,405.31 178.92,405.33 179.40,405.52 C179.88,405.71 180.44,406.25 180.93,406.42 C181.42,406.59 181.98,406.47 182.47,406.58 C182.96,406.70 183.55,406.97 184.00,407.13 C184.45,407.29 184.88,407.48 185.30,407.60 C185.72,407.72 186.18,407.75 186.60,407.88 C187.02,408.00 187.48,408.29 187.90,408.38 C188.32,408.47 188.74,408.30 189.20,408.44 C189.66,408.58 190.29,409.06 190.80,409.25 C191.31,409.43 191.89,409.41 192.40,409.60 C192.91,409.79 193.54,410.27 194.00,410.46 C194.46,410.65 194.85,410.76 195.25,410.80 C195.65,410.84 196.10,410.66 196.50,410.71 C196.90,410.76 197.35,410.98 197.75,411.11 C198.15,411.24 198.59,411.34 199.00,411.53 C199.41,411.72 199.91,412.16 200.33,412.28 C200.76,412.40 201.24,412.20 201.67,412.26 C202.09,412.33 202.57,412.64 203.00,412.68 C203.43,412.71 203.91,412.49 204.33,412.48 C204.76,412.47 205.24,412.60 205.67,412.60 C206.09,412.61 206.55,412.51 207.00,412.53 C207.45,412.55 208.02,412.63 208.50,412.71 C208.98,412.79 209.52,413.06 210.00,413.05 C210.48,413.04 211.02,412.75 211.50,412.65 C211.98,412.55 212.55,412.50 213.00,412.44 C213.45,412.39 213.91,412.31 214.33,412.31 C214.76,412.31 215.24,412.44 215.67,412.46 C216.09,412.47 216.79,412.42 217.00,412.41" fill="none" stroke="#b2201e" stroke-width="1.8" stroke-linejoin="round"/>
<path d="M96.3,360.2 L96.3,452.8 L217.6,452.8 M91.6,360.78 L96.3,360.78 M91.6,376.12 L96.3,376.12 M91.6,391.46 L96.3,391.46 M91.6,406.80 L96.3,406.80 M91.6,422.14 L96.3,422.14 M91.6,437.48 L96.3,437.48 M91.6,452.82 L96.3,452.82 M113.40,452.8 L113.40,457.4 M147.90,452.8 L147.90,457.4 M182.40,452.8 L182.40,457.4 M216.90,452.8 L216.90,457.4" stroke="#231f20" stroke-width="1.2" fill="none"/>
<text transform="translate(89.5,364.33) scale(1.0,1)" font-size="10.2" text-anchor="end" fill="#231f20" stroke="#231f20"  >300</text>
<text transform="translate(89.5,379.67) scale(1.0,1)" font-size="10.2" text-anchor="end" fill="#231f20" stroke="#231f20"  >200</text>
<text transform="translate(89.5,395.01) scale(1.0,1)" font-size="10.2" text-anchor="end" fill="#231f20" stroke="#231f20"  >100</text>
<text transform="translate(89.5,410.35) scale(1.0,1)" font-size="10.2" text-anchor="end" fill="#231f20" stroke="#231f20"  >0</text>
<text transform="translate(89.5,425.69) scale(1.0,1)" font-size="10.2" text-anchor="end" fill="#231f20" stroke="#231f20"  >-100</text>
<text transform="translate(89.5,441.03) scale(1.0,1)" font-size="10.2" text-anchor="end" fill="#231f20" stroke="#231f20"  >-200</text>
<text transform="translate(89.5,456.37) scale(1.0,1)" font-size="10.2" text-anchor="end" fill="#231f20" stroke="#231f20"  >-300</text>
<text transform="translate(113.4,467.7) scale(1.0,1)" font-size="9.8" text-anchor="middle" fill="#231f20" stroke="#231f20"  >0</text>
<text transform="translate(147.9,467.7) scale(1.0,1)" font-size="9.8" text-anchor="middle" fill="#231f20" stroke="#231f20"  >100</text>
<text transform="translate(182.4,467.7) scale(1.0,1)" font-size="9.8" text-anchor="middle" fill="#231f20" stroke="#231f20"  >200</text>
<text transform="translate(216.9,467.7) scale(1.0,1)" font-size="9.8" text-anchor="middle" fill="#231f20" stroke="#231f20"  >300</text>
<text transform="translate(157.5,478.5) scale(1.0,1)" font-size="9.85" text-anchor="middle" fill="#231f20" stroke="#231f20"  >Time (ms)</text>
<line x1="147.9" y1="366.8" x2="156.2" y2="366.8" stroke="#f0acac" stroke-width="1.4"/>
<line x1="147.9" y1="375.8" x2="156.2" y2="375.8" stroke="#b2201e" stroke-width="1.7"/>
<text x="160.1" y="370.2" font-size="7.8" font-style="italic" fill="#231f20" stroke="#231f20">Cyp4v3</text>
<text x="188.2" y="367.0" font-size="3.4" font-style="italic" fill="#444">-/-</text>
<text x="192.5" y="370.2" font-size="8" fill="#231f20" stroke="#231f20">ND</text>
<text x="160.1" y="379.0" font-size="7.8" font-style="italic" fill="#231f20" stroke="#231f20">Cyp4v3</text>
<text x="188.2" y="375.8" font-size="3.4" font-style="italic" fill="#444">-/-</text>
<text x="192.5" y="379.0" font-size="8" fill="#231f20" stroke="#231f20">HFD</text>
<path d="M390.00,407.30 C390.48,407.38 392.04,407.53 393.00,407.80 C393.96,408.07 394.88,408.81 396.00,409.00 C397.12,409.19 398.72,409.06 400.00,409.00 C401.28,408.94 402.88,408.54 404.00,408.60 C405.12,408.66 405.98,409.40 407.00,409.40 C408.02,409.40 409.63,407.54 410.40,408.60 C411.17,409.66 411.38,413.54 411.80,416.00 C412.22,418.46 412.65,422.27 413.00,424.00 C413.35,425.73 413.68,426.58 414.00,426.80 C414.32,427.02 414.74,426.97 415.00,425.40 C415.26,423.83 415.38,419.90 415.60,417.00 C415.82,414.10 416.14,408.10 416.40,407.30 C416.66,406.50 416.91,409.87 417.20,412.00 C417.49,414.13 417.91,421.56 418.20,420.60 C418.49,419.64 418.74,410.11 419.00,406.00 C419.26,401.89 419.54,395.54 419.80,394.90 C420.06,394.26 420.30,399.58 420.60,402.00 C420.90,404.42 421.38,409.52 421.70,410.00 C422.02,410.48 422.31,406.14 422.60,405.00 C422.89,403.86 423.16,402.96 423.50,402.90 C423.84,402.84 424.30,404.62 424.70,404.60 C425.10,404.58 425.42,403.42 426.00,402.80 C426.58,402.18 427.60,400.89 428.30,400.70 C429.00,400.51 429.70,401.37 430.40,401.62 C431.10,401.86 432.15,402.21 432.70,402.22 C433.25,402.23 433.48,401.91 433.85,401.68 C434.22,401.44 434.58,400.94 435.00,400.76 C435.42,400.58 436.02,400.57 436.50,400.55 C436.98,400.53 437.52,400.49 438.00,400.63 C438.48,400.77 439.02,401.25 439.50,401.44 C439.98,401.63 440.52,401.82 441.00,401.81 C441.48,401.80 442.02,401.58 442.50,401.39 C442.98,401.19 443.51,400.67 444.00,400.61 C444.49,400.54 445.07,400.93 445.57,400.99 C446.07,401.05 446.63,400.96 447.13,400.98 C447.63,400.99 448.19,400.93 448.70,401.07 C449.21,401.21 449.82,401.60 450.35,401.87 C450.88,402.15 451.44,402.51 452.00,402.80 C452.56,403.09 453.26,403.50 453.85,403.70 C454.44,403.90 455.08,403.76 455.70,404.03 C456.32,404.30 457.01,405.10 457.70,405.41 C458.39,405.73 459.47,405.84 460.00,406.01 C460.53,406.18 460.68,406.25 461.00,406.49 C461.32,406.72 461.59,407.17 462.00,407.47 C462.41,407.77 463.04,408.09 463.53,408.36 C464.02,408.62 464.58,408.86 465.07,409.10 C465.56,409.33 466.12,409.62 466.60,409.85 C467.08,410.08 467.60,410.41 468.07,410.53 C468.54,410.66 469.06,410.46 469.53,410.64 C470.00,410.83 470.53,411.42 471.00,411.67 C471.47,411.93 472.02,412.09 472.50,412.25 C472.98,412.41 473.52,412.56 474.00,412.67 C474.48,412.79 475.02,412.80 475.50,412.97 C475.98,413.15 476.52,413.60 477.00,413.78 C477.48,413.96 478.02,413.87 478.50,414.11 C478.98,414.36 479.53,415.06 480.00,415.30 C480.47,415.55 480.97,415.57 481.43,415.66 C481.89,415.74 482.41,415.77 482.87,415.83 C483.33,415.90 483.82,415.88 484.30,416.06 C484.78,416.24 485.37,416.77 485.87,416.95 C486.37,417.13 486.93,417.04 487.43,417.18 C487.93,417.33 488.53,417.71 489.00,417.87 C489.47,418.02 489.95,418.09 490.40,418.14 C490.85,418.20 491.35,418.16 491.80,418.21 C492.25,418.25 492.72,418.32 493.20,418.44 C493.68,418.56 494.29,418.82 494.80,418.94 C495.31,419.06 495.89,419.12 496.40,419.19 C496.91,419.25 497.53,419.29 498.00,419.36 C498.47,419.44 498.91,419.53 499.33,419.66 C499.76,419.80 500.24,420.18 500.67,420.22 C501.09,420.25 501.55,419.89 502.00,419.88 C502.45,419.87 503.02,420.02 503.50,420.18 C503.98,420.34 504.38,420.85 505.00,420.89 C505.62,420.93 506.73,420.55 507.40,420.45 C508.07,420.34 508.62,420.33 509.20,420.22 C509.78,420.12 510.43,419.97 511.00,419.78 C511.57,419.59 512.19,419.19 512.75,419.04 C513.31,418.89 514.01,419.05 514.50,418.85 C514.99,418.65 515.38,418.01 515.80,417.79 C516.22,417.56 516.68,417.60 517.10,417.44 C517.52,417.28 518.19,416.90 518.40,416.79" fill="none" stroke="#2a80b2" stroke-width="1.7" stroke-linejoin="round"/>
<path d="M390.00,408.50 C390.64,408.55 392.72,408.72 394.00,408.80 C395.28,408.88 396.72,409.03 398.00,409.00 C399.28,408.97 400.72,408.70 402.00,408.60 C403.28,408.50 404.78,408.40 406.00,408.40 C407.22,408.40 408.80,407.38 409.60,408.60 C410.40,409.82 410.55,413.06 411.00,416.00 C411.45,418.94 412.02,424.60 412.40,427.00 C412.78,429.40 413.05,430.17 413.40,431.00 C413.75,431.83 414.28,432.68 414.60,432.20 C414.92,431.72 415.18,430.27 415.40,428.00 C415.62,425.73 415.78,420.88 416.00,418.00 C416.22,415.12 416.54,410.64 416.80,410.00 C417.06,409.36 417.33,412.16 417.60,414.00 C417.87,415.84 418.23,423.10 418.50,421.50 C418.77,419.90 419.01,409.52 419.30,404.00 C419.59,398.48 420.03,388.92 420.30,387.00 C420.57,385.08 420.73,390.03 421.00,392.00 C421.27,393.97 421.68,398.60 422.00,399.30 C422.32,400.00 422.71,397.09 423.00,396.40 C423.29,395.71 423.54,394.97 423.80,395.00 C424.06,395.03 424.36,396.20 424.60,396.60 C424.84,397.00 424.98,397.79 425.30,397.50 C425.62,397.21 426.12,395.52 426.60,394.80 C427.08,394.08 427.76,393.18 428.30,393.00 C428.84,392.82 429.41,393.75 430.00,393.69 C430.59,393.62 431.36,392.71 432.00,392.57 C432.64,392.43 433.33,392.96 434.00,392.81 C434.67,392.65 435.62,391.77 436.20,391.61 C436.78,391.45 437.15,391.71 437.60,391.82 C438.05,391.93 438.54,392.38 439.00,392.30 C439.46,392.21 440.02,391.45 440.50,391.27 C440.98,391.09 441.52,391.12 442.00,391.18 C442.48,391.23 443.02,391.56 443.50,391.61 C443.98,391.66 444.55,391.45 445.00,391.50 C445.45,391.56 445.88,391.92 446.30,391.95 C446.72,391.97 447.18,391.63 447.60,391.66 C448.02,391.70 448.47,392.04 448.90,392.18 C449.33,392.32 449.83,392.38 450.27,392.56 C450.70,392.73 451.20,393.09 451.63,393.30 C452.07,393.50 452.53,393.72 453.00,393.85 C453.47,393.98 454.07,393.95 454.57,394.13 C455.07,394.30 455.63,394.69 456.13,394.94 C456.63,395.18 457.08,395.49 457.70,395.65 C458.32,395.80 459.47,395.71 460.00,395.89 C460.53,396.07 460.68,396.55 461.00,396.79 C461.32,397.02 461.59,397.11 462.00,397.36 C462.41,397.62 463.04,398.20 463.53,398.37 C464.02,398.55 464.58,398.32 465.07,398.48 C465.56,398.64 466.12,399.23 466.60,399.38 C467.08,399.53 467.60,399.36 468.07,399.41 C468.54,399.45 469.06,399.48 469.53,399.68 C470.00,399.89 470.53,400.49 471.00,400.66 C471.47,400.83 472.02,400.63 472.50,400.73 C472.98,400.83 473.52,401.01 474.00,401.27 C474.48,401.52 475.02,402.16 475.50,402.34 C475.98,402.52 476.52,402.43 477.00,402.39 C477.48,402.36 478.02,402.07 478.50,402.12 C478.98,402.17 479.53,402.63 480.00,402.72 C480.47,402.82 480.97,402.64 481.43,402.69 C481.89,402.75 482.41,403.01 482.87,403.06 C483.33,403.11 483.82,402.90 484.30,402.99 C484.78,403.09 485.37,403.54 485.87,403.64 C486.37,403.74 486.93,403.55 487.43,403.60 C487.93,403.65 488.53,403.83 489.00,403.93 C489.47,404.02 489.95,404.18 490.40,404.21 C490.85,404.24 491.35,404.08 491.80,404.13 C492.25,404.17 492.72,404.45 493.20,404.50 C493.68,404.55 494.29,404.44 494.80,404.43 C495.31,404.43 495.89,404.48 496.40,404.49 C496.91,404.50 497.53,404.42 498.00,404.50 C498.47,404.57 498.91,404.78 499.33,404.93 C499.76,405.07 500.24,405.35 500.67,405.41 C501.09,405.46 501.57,405.17 502.00,405.25 C502.43,405.34 502.91,405.82 503.33,405.92 C503.76,406.03 504.24,405.86 504.67,405.89 C505.09,405.91 505.52,405.94 506.00,406.07 C506.48,406.20 507.13,406.59 507.67,406.69 C508.20,406.79 508.80,406.69 509.33,406.72 C509.87,406.75 510.50,406.84 511.00,406.87 C511.50,406.90 512.00,406.90 512.47,406.92 C512.94,406.94 513.46,407.08 513.93,407.01 C514.40,406.94 514.93,406.58 515.40,406.49 C515.87,406.40 516.42,406.66 516.90,406.43 C517.38,406.20 518.16,405.28 518.40,405.07" fill="none" stroke="#ea9494" stroke-width="1.4" stroke-linejoin="round"/>
<path d="M389.7,362 L389.7,455.4 L518.5,455.4 M385.6,377.05 L389.7,377.05 M385.6,392.77 L389.7,392.77 M385.6,408.50 L389.7,408.50 M385.6,424.23 L389.7,424.23 M385.6,439.95 L389.7,439.95 M408.10,455.4 L408.10,458.8 M444.70,455.4 L444.70,458.8 M481.30,455.4 L481.30,458.8 M517.90,455.4 L517.90,458.8" stroke="#231f20" stroke-width="1.2" fill="none"/>
<text transform="translate(381.4,380.55) scale(1.0,1)" font-size="10.0" text-anchor="end" fill="#231f20" stroke="#231f20"  >100</text>
<text transform="translate(381.4,396.27) scale(1.0,1)" font-size="10.0" text-anchor="end" fill="#231f20" stroke="#231f20"  >50</text>
<text transform="translate(381.4,412.0) scale(1.0,1)" font-size="10.0" text-anchor="end" fill="#231f20" stroke="#231f20"  >0</text>
<text transform="translate(381.4,427.73) scale(1.0,1)" font-size="10.0" text-anchor="end" fill="#231f20" stroke="#231f20"  >-50</text>
<text transform="translate(381.4,443.45) scale(1.0,1)" font-size="10.0" text-anchor="end" fill="#231f20" stroke="#231f20"  >-100</text>
<text transform="translate(408.1,469.3) scale(1.0,1)" font-size="9.8" text-anchor="middle" fill="#231f20" stroke="#231f20"  >0</text>
<text transform="translate(444.7,469.3) scale(1.0,1)" font-size="9.8" text-anchor="middle" fill="#231f20" stroke="#231f20"  >100</text>
<text transform="translate(481.3,469.3) scale(1.0,1)" font-size="9.8" text-anchor="middle" fill="#231f20" stroke="#231f20"  >200</text>
<text transform="translate(517.9,469.3) scale(1.0,1)" font-size="9.8" text-anchor="middle" fill="#231f20" stroke="#231f20"  >300</text>
<text transform="translate(453.4,478.5) scale(1.0,1)" font-size="9.7" text-anchor="middle" fill="#231f20" stroke="#231f20"  >Time (ms)</text>
<line x1="464.3" y1="367" x2="471.5" y2="367" stroke="#2a80b2" stroke-width="1.8"/>
<line x1="464.3" y1="376.3" x2="471.5" y2="376.3" stroke="#ea9494" stroke-width="1.5"/>
<text transform="translate(474.6,369.7) scale(1.0,1)" font-size="7.95" text-anchor="start" fill="#231f20" stroke="#231f20"  >AAV-eGFP</text>
<text transform="translate(474.6,379.1) scale(1.0,1)" font-size="7.95" text-anchor="start" fill="#231f20" stroke="#231f20"  >AAV-hCYP4V2</text>
</svg>
</body></html>
